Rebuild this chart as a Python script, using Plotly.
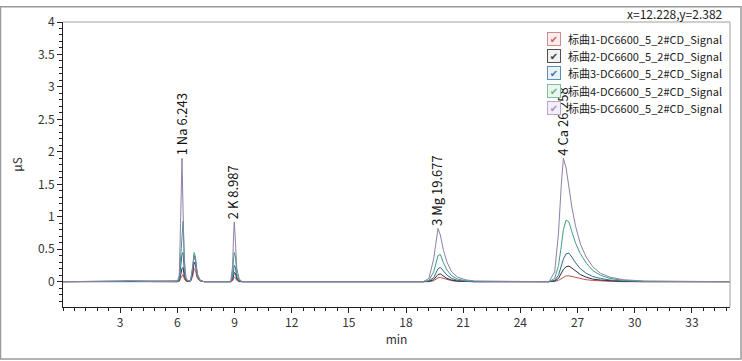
import plotly.graph_objects as go

# ---- data ----
t = [0, 2.7, 3.0, 3.5, 4.0, 4.5, 4.8, 6.0, 6.1, 6.17,
     6.243, 6.3, 6.37, 6.45, 6.55, 6.7, 6.8, 6.88, 6.95, 7.05,
     7.2, 7.4, 8.8, 8.9, 8.95, 8.987, 9.05, 9.12, 9.25, 9.4,
     18.9, 19.2, 19.45, 19.6, 19.677, 19.8, 19.95, 20.15, 20.4, 20.7,
     21.1, 21.6, 25.5, 25.8, 26.0, 26.15, 26.258, 26.4, 26.55, 26.7,
     26.9, 27.15, 27.45, 27.8, 28.2, 28.7, 29.4, 30.5, 35]

s1 = [0, 0, 0.004, 0.006, 0.004, 0.005, 0, 0, 0.005, 0.05,
      0.1, 0.11, 0.04, 0.01, 0, 0.01, 0.08, 0.2, 0.18, 0.05,
      0.01, 0, 0, 0.015, 0.05, 0.07, 0.06, 0.02, 0, 0,
      0, 0, 0.015, 0.05, 0.06, 0.065, 0.05, 0.03, 0.015, 0.005,
      0, 0, 0, 0.005, 0.02, 0.05, 0.07, 0.09, 0.09, 0.08,
      0.06, 0.045, 0.03, 0.02, 0.01, 0.005, 0, 0, 0]
s2 = [0, 0, 0.005, 0.008, 0.005, 0.006, 0, 0, 0.01, 0.1,
      0.2, 0.22, 0.08, 0.02, 0, 0.015, 0.12, 0.3, 0.26, 0.08,
      0.015, 0, 0, 0.03, 0.1, 0.14, 0.13, 0.04, 0.005, 0,
      0, 0.005, 0.03, 0.09, 0.11, 0.12, 0.09, 0.05, 0.025, 0.01,
      0.004, 0, 0, 0.01, 0.05, 0.13, 0.19, 0.23, 0.24, 0.21,
      0.16, 0.11, 0.07, 0.04, 0.025, 0.012, 0.005, 0, 0]
s3 = [0, 0, 0.006, 0.01, 0.006, 0.008, 0, 0, 0.02, 0.2,
      0.42, 0.45, 0.15, 0.03, 0.005, 0.02, 0.18, 0.4, 0.34, 0.1,
      0.02, 0, 0, 0.06, 0.18, 0.25, 0.22, 0.07, 0.01, 0,
      0, 0.01, 0.06, 0.16, 0.2, 0.22, 0.17, 0.1, 0.05, 0.02,
      0.008, 0, 0, 0.02, 0.1, 0.24, 0.35, 0.43, 0.44, 0.38,
      0.29, 0.2, 0.13, 0.08, 0.05, 0.025, 0.01, 0.003, 0]
s4 = [0, 0, 0.008, 0.012, 0.008, 0.01, 0, 0, 0.05, 0.4,
      0.8, 0.93, 0.35, 0.06, 0.01, 0.02, 0.22, 0.45, 0.38, 0.12,
      0.02, 0, 0, 0.12, 0.35, 0.45, 0.38, 0.12, 0.02, 0,
      0, 0.02, 0.15, 0.33, 0.4, 0.42, 0.3, 0.18, 0.09, 0.04,
      0.015, 0.005, 0, 0.05, 0.25, 0.55, 0.8, 0.95, 0.92, 0.77,
      0.59, 0.43, 0.29, 0.17, 0.1, 0.05, 0.02, 0.005, 0]
s5 = [0, 0, 0.01, 0.015, 0.01, 0.012, 0, 0, 0.1, 0.9,
      1.9, 1.1, 0.25, 0.05, 0.01, 0.02, 0.2, 0.38, 0.33, 0.1,
      0.02, 0, 0, 0.25, 0.7, 0.92, 0.6, 0.2, 0.04, 0,
      0, 0.05, 0.35, 0.7, 0.82, 0.72, 0.5, 0.3, 0.15, 0.07,
      0.03, 0.01, 0, 0.15, 0.75, 1.5, 1.9, 1.75, 1.45, 1.15,
      0.85, 0.58, 0.38, 0.23, 0.13, 0.07, 0.03, 0.01, 0]

series_names = [f"标曲{i}-DC6600_5_2#CD_Signal" for i in range(1, 6)]
series_values = [s1, s2, s3, s4, s5]

peak_labels = ["1 Na 6.243", "2 K 8.987", "3 Mg 19.677", "4 Ca 26.258"]
peak_times = [6.243, 8.987, 19.677, 26.258]
peak_heights = [1.9, 0.92, 0.82, 1.9]

x_ticks = [3, 6, 9, 12, 15, 18, 21, 24, 27, 30, 33]
y_ticks = [0, 0.5, 1, 1.5, 2, 2.5, 3, 3.5, 4]
y_tick_text = ["0", "0.5", "1", "1.5", "2", "2.5", "3", "3.5", "4"]

# ---- styles ----
line_colors = ["#c0504d", "#2d2d3a", "#2e6b8f", "#3f9e86", "#8e80a8"]
check_colors = ["#d0605f", "#3a3a3a", "#3a78b0", "#5cb885", "#a890c8"]
box_borders = ["#cf8c8c", "#505050", "#5b8db5", "#7cbf98", "#b8a4d2"]
box_fills = ["#fcecec", "#f2f2f2", "#eaf2f9", "#eaf6ef", "#f3eefa"]

W, H = 742, 361
ML, MR, MT, MB = 63, 12, 16, 54
PW, PH = W - ML - MR, H - MT - MB


def px(xp):
    return (xp - ML) / PW


def py(yp):
    return (H - MB - yp) / PH


FONT = "Noto Sans CJK SC, Noto Sans, sans-serif"

fig = go.Figure()
for name, vals, col in zip(series_names, series_values, line_colors):
    fig.add_trace(go.Scatter(x=t, y=vals, mode="lines", name=name,
                             line=dict(color=col, width=1), showlegend=False))

annotations = []
for lab, pt, ph in zip(peak_labels, peak_times, peak_heights):
    annotations.append(dict(x=pt, y=ph, xref="x", yref="y", text=lab,
                            textangle=-90, showarrow=False, yanchor="bottom",
                            xanchor="center", yshift=1, xshift=-1,
                            font=dict(family=FONT, size=13, color="#111")))

row_y = [33, 51, 68.5, 86.3, 104]
for i, name in enumerate(series_names):
    annotations.append(dict(x=px(553.5), y=py(row_y[i]), xref="paper", yref="paper",
                            text="✔", showarrow=False, width=12, height=12,
                            borderwidth=1, bordercolor=box_borders[i], bgcolor=box_fills[i],
                            borderpad=0, xanchor="center", yanchor="middle",
                            font=dict(family="DejaVu Sans", size=10, color=check_colors[i])))
    annotations.append(dict(x=px(566), y=py(row_y[i]), xref="paper", yref="paper",
                            text=name, showarrow=False, xanchor="left", yanchor="middle",
                            font=dict(family=FONT, size=11, color="#222")))

annotations.append(dict(x=px(725), y=py(7), xref="paper", yref="paper",
                        text="x=12.228,y=2.382", showarrow=False, xanchor="right",
                        yanchor="middle", font=dict(family=FONT, size=12, color="#222")))

shapes = [
    dict(type="line", xref="paper", yref="paper", x0=0, x1=1, y0=1, y1=1,
         line=dict(color="#a0a0a0", width=1)),
    dict(type="line", xref="paper", yref="paper", x0=1, x1=1, y0=0, y1=1,
         line=dict(color="#a0a0a0", width=1)),
    dict(type="rect", xref="paper", yref="paper", x0=px(0.5), x1=px(W - 1), y0=py(H - 1), y1=py(0.5),
         line=dict(color="#9a9a9a", width=1.5)),
]

fig.update_layout(
    width=W, height=H,
    margin=dict(l=ML, r=MR, t=MT, b=MB),
    paper_bgcolor="white", plot_bgcolor="white",
    font=dict(family=FONT, size=12, color="#333"),
    annotations=annotations, shapes=shapes,
    showlegend=False,
)
fig.update_xaxes(range=[0, 35], tickvals=x_ticks, ticks="outside", ticklen=5,
                 tickcolor="#222", showline=True, linecolor="#222", linewidth=1,
                 showgrid=False, zeroline=False,
                 tickfont=dict(family=FONT, size=12, color="#333"),
                 minor=dict(ticks="outside", ticklen=3, tick0=0, dtick=0.6, tickcolor="#222",
                            showgrid=False),
                 title=dict(text="min", standoff=6, font=dict(family=FONT, size=12, color="#333")))
fig.update_yaxes(range=[-0.39, 4.0], tickvals=y_ticks, ticktext=y_tick_text,
                 ticks="outside", ticklen=5, tickcolor="#222",
                 showline=True, linecolor="#222", linewidth=1,
                 showgrid=False, zeroline=False,
                 tickfont=dict(family=FONT, size=12, color="#333"),
                 minor=dict(ticks="outside", ticklen=3, tick0=0, dtick=0.1, tickcolor="#222",
                            showgrid=False),
                 title=dict(text="μS", standoff=12, font=dict(family=FONT, size=12, color="#333")))

fig.write_html("out.html")
